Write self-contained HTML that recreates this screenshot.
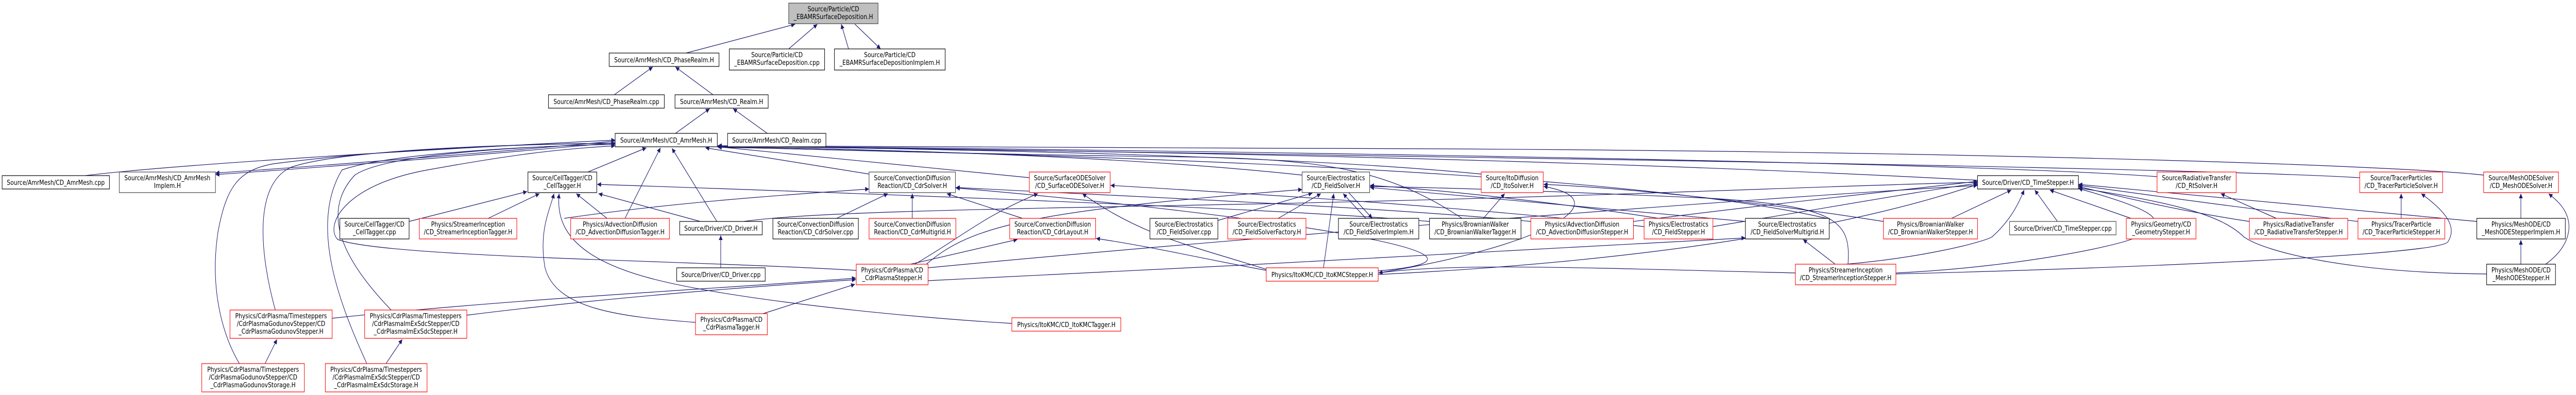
<!DOCTYPE html>
<html><head><meta charset="utf-8"><style>
html,body{margin:0;padding:0;background:#fff;width:100%;height:100%;overflow:hidden;}
svg{display:block;position:absolute;left:0;top:0;width:100vw;height:100vh;}
text{font-family:"DejaVu Sans","Liberation Sans",sans-serif;font-size:13px;fill:#000;}
.n rect{fill:#fff;stroke:#000;stroke-width:1.2;}
.r rect{stroke:#ff0000;}
.g rect{stroke:#404040;}
.e path{fill:none;stroke:#191970;stroke-width:1.2;}
</style></head><body>
<svg viewBox="0 0 6026 767" preserveAspectRatio="none" xmlns="http://www.w3.org/2000/svg">
<defs><marker id="a" viewBox="0 0 10 10" refX="10" refY="5" markerWidth="12" markerHeight="9" markerUnits="userSpaceOnUse" orient="auto"><path d="M0,0 L10,5 L0,10z" fill="#191970"/></marker></defs>
<g class="e">
<path d="M1605,103 L1860,47" marker-end="url(#a)"/>
<path d="M1845,95 L1912,47" marker-end="url(#a)"/>
<path d="M1985,95 L1968,47" marker-end="url(#a)"/>
<path d="M2000,47 L2060,95" marker-end="url(#a)"/>
<path d="M1437,184 L1527,130" marker-end="url(#a)"/>
<path d="M1668,184 L1580,130" marker-end="url(#a)"/>
<path d="M1580,259 L1660,211" marker-end="url(#a)"/>
<path d="M1795,259 L1715,211" marker-end="url(#a)"/>
<path d="M200,341 C400,320 1000,290 1439,272" marker-end="url(#a)"/>
<path d="M1439,274 C1100,300 700,325 504,336" marker-end="url(#a)"/>
<path d="M1439,277 C1100,303 700,328 504,339" marker-end="url(#a)"/>
<path d="M644,602 C610,500 590,360 680,325 C800,290 1200,280 1439,278" marker-end="url(#a)"/>
<path d="M560,706 C520,650 490,560 510,450 C530,360 560,330 640,318 C900,290 1200,280 1439,278" marker-end="url(#a)"/>
<path d="M915,602 C820,520 740,420 830,340 C900,300 1200,285 1439,280" marker-end="url(#a)"/>
<path d="M858,706 C800,600 720,440 800,330 C900,300 1200,285 1439,280" marker-end="url(#a)"/>
<path d="M2003,525 C1600,505 900,500 790,465 C760,440 800,360 1000,330 C1200,300 1300,290 1439,283" marker-end="url(#a)"/>
<path d="M1375,334 L1512,287" marker-end="url(#a)"/>
<path d="M1462,424 L1545,287" marker-end="url(#a)"/>
<path d="M1677,430 L1572,288" marker-end="url(#a)"/>
<path d="M2033,338 L1650,287" marker-end="url(#a)"/>
<path d="M2408,345 C2000,310 1800,295 1679,285" marker-end="url(#a)"/>
<path d="M3046,340 C2600,300 2000,290 1679,284" marker-end="url(#a)"/>
<path d="M3465,338 C3000,300 2200,290 1679,283" marker-end="url(#a)"/>
<path d="M4626,350 C3500,300 2200,290 1679,283" marker-end="url(#a)"/>
<path d="M5046,343 C4500,310 2500,290 1679,283" marker-end="url(#a)"/>
<path d="M5520,345 C5000,320 2500,295 1679,283" marker-end="url(#a)"/>
<path d="M5810,340 C5600,320 4500,290 3000,288 C2300,288 1900,285 1679,283" marker-end="url(#a)"/>
<path d="M3420,424 C3250,330 3100,310 2800,305 C2300,300 1900,290 1679,285" marker-end="url(#a)"/>
<path d="M4283,426 C3800,330 2500,300 1679,286" marker-end="url(#a)"/>
<path d="M1142,424 L1262,376" marker-end="url(#a)"/>
<path d="M957,430 L1233,372" marker-end="url(#a)"/>
<path d="M1420,424 L1348,376" marker-end="url(#a)"/>
<path d="M1638,430 L1400,376" marker-end="url(#a)"/>
<path d="M1627,626 C1450,615 1300,600 1275,520 C1260,450 1285,410 1296,376" marker-end="url(#a)"/>
<path d="M2367,628 C2100,615 1700,580 1520,540 C1340,500 1300,440 1308,376" marker-end="url(#a)"/>
<path d="M3344,430 C3000,405 2000,375 1397,358" marker-end="url(#a)"/>
<path d="M1686,520 L1686,457" marker-end="url(#a)"/>
<path d="M1740,430 C1900,410 2400,405 3000,395 C3800,380 4300,360 4626,354" marker-end="url(#a)"/>
<path d="M2134,424 L2134,376" marker-end="url(#a)"/>
<path d="M2392,424 L2215,376" marker-end="url(#a)"/>
<path d="M1957,424 L2077,376" marker-end="url(#a)"/>
<path d="M1320,424 C1600,390 1900,375 2033,367" marker-end="url(#a)"/>
<path d="M3581,430 C3200,400 2600,380 2236,364" marker-end="url(#a)"/>
<path d="M3224,526 C3600,500 3000,420 2236,365" marker-end="url(#a)"/>
<path d="M777,618 C1200,580 1700,560 2002,540" marker-end="url(#a)"/>
<path d="M1092,612 C1400,580 1700,560 2002,543" marker-end="url(#a)"/>
<path d="M1785,609 L2000,552" marker-end="url(#a)"/>
<path d="M2140,513 C2250,460 2300,420 2428,376" marker-end="url(#a)"/>
<path d="M2962,523 C2800,480 2673,460 2532,376" marker-end="url(#a)"/>
<path d="M3846,440 C3400,400 3000,380 2598,360" marker-end="url(#a)"/>
<path d="M2167,513 C2270,440 2400,410 3046,368" marker-end="url(#a)"/>
<path d="M2130,513 L2380,465" marker-end="url(#a)"/>
<path d="M2962,525 C2800,500 2700,480 2564,463" marker-end="url(#a)"/>
<path d="M2849,428 L3070,375" marker-end="url(#a)"/>
<path d="M2990,424 L3090,376" marker-end="url(#a)"/>
<path d="M3195,424 L3142,376" marker-end="url(#a)"/>
<path d="M3155,374 L3210,424" marker-end="url(#a)"/>
<path d="M3096,520 L3120,376" marker-end="url(#a)"/>
<path d="M3880,424 C3700,400 3400,370 3205,360" marker-end="url(#a)"/>
<path d="M4083,430 C3700,400 3400,380 3205,364" marker-end="url(#a)"/>
<path d="M3470,424 L3520,376" marker-end="url(#a)"/>
<path d="M4406,430 C4100,390 3800,365 3611,358" marker-end="url(#a)"/>
<path d="M3224,530 C3600,480 3800,390 3611,362" marker-end="url(#a)"/>
<path d="M4565,424 L4705,369" marker-end="url(#a)"/>
<path d="M4813,430 L4760,369" marker-end="url(#a)"/>
<path d="M4985,424 L4795,369" marker-end="url(#a)"/>
<path d="M4318,513 C4500,500 4640,470 4660,460 C4700,430 4720,400 4735,369" marker-end="url(#a)"/>
<path d="M5262,430 C5100,410 4950,380 4862,362" marker-end="url(#a)"/>
<path d="M5516,430 C5200,400 5000,375 4862,360" marker-end="url(#a)"/>
<path d="M5794,430 C5400,400 5000,370 4862,358" marker-end="url(#a)"/>
<path d="M5817,532 C5500,530 5300,490 5249,460 C5200,420 5100,395 4862,365" marker-end="url(#a)"/>
<path d="M4007,440 C4300,400 4500,370 4626,356" marker-end="url(#a)"/>
<path d="M3821,430 C4200,390 4500,365 4626,352" marker-end="url(#a)"/>
<path d="M3224,533 C3800,510 4300,450 4626,358" marker-end="url(#a)"/>
<path d="M2171,520 C2800,470 4000,390 4626,360" marker-end="url(#a)"/>
<path d="M4435,530 C4700,520 4950,480 5000,460 C5080,430 5050,410 4862,366" marker-end="url(#a)"/>
<path d="M5617,424 L5617,376" marker-end="url(#a)"/>
<path d="M4435,532 C5000,520 5700,495 5726,470 C5750,440 5720,410 5664,376" marker-end="url(#a)"/>
<path d="M5897,424 L5897,376" marker-end="url(#a)"/>
<path d="M5955,513 C6010,480 6020,440 6000,410 C5990,395 5975,385 5962,376" marker-end="url(#a)"/>
<path d="M5897,513 L5897,466" marker-end="url(#a)"/>
<path d="M5325,424 L5195,376" marker-end="url(#a)"/>
<path d="M4293,513 L4218,465" marker-end="url(#a)"/>
<path d="M2171,545 C2800,520 3500,490 4083,462" marker-end="url(#a)"/>
<path d="M4323,513 C4330,430 4300,400 4000,385 C3600,370 3400,365 3205,362" marker-end="url(#a)"/>
<path d="M4200,530 C3700,520 3400,510 3225,530" marker-end="url(#a)"/>
<path d="M620,706 L648,659" marker-end="url(#a)"/>
<path d="M903,706 L941,659" marker-end="url(#a)"/>
</g>
<g class="n g"><rect x="1845" y="6" width="209" height="40" style="fill:#bfbfbf"/><text text-anchor="middle" y="22"><tspan x="1949.5">Source/Particle/CD</tspan><tspan x="1949.5" dy="15">_EBAMRSurfaceDeposition.H</tspan></text></g>
<g class="n"><rect x="1425" y="103" width="257" height="26"/><text x="1553.5" y="121" text-anchor="middle">Source/AmrMesh/CD_PhaseRealm.H</text></g>
<g class="n"><rect x="1706" y="95" width="223" height="41"/><text text-anchor="middle" y="111"><tspan x="1817.5">Source/Particle/CD</tspan><tspan x="1817.5" dy="15">_EBAMRSurfaceDeposition.cpp</tspan></text></g>
<g class="n"><rect x="1952" y="95" width="259" height="41"/><text text-anchor="middle" y="111"><tspan x="2081.5">Source/Particle/CD</tspan><tspan x="2081.5" dy="15">_EBAMRSurfaceDepositionImplem.H</tspan></text></g>
<g class="n"><rect x="1283" y="184" width="271" height="26"/><text x="1418.5" y="202" text-anchor="middle">Source/AmrMesh/CD_PhaseRealm.cpp</text></g>
<g class="n"><rect x="1579" y="184" width="218" height="26"/><text x="1688" y="202" text-anchor="middle">Source/AmrMesh/CD_Realm.H</text></g>
<g class="n"><rect x="1439" y="259" width="239" height="26"/><text x="1558.5" y="277" text-anchor="middle">Source/AmrMesh/CD_AmrMesh.H</text></g>
<g class="n"><rect x="1702" y="259" width="230" height="26"/><text x="1817" y="277" text-anchor="middle">Source/AmrMesh/CD_Realm.cpp</text></g>
<g class="n"><rect x="5" y="341" width="251" height="26"/><text x="130.5" y="359" text-anchor="middle">Source/AmrMesh/CD_AmrMesh.cpp</text></g>
<g class="n g"><rect x="279" y="334" width="225" height="40"/><text text-anchor="middle" y="350"><tspan x="391.5">Source/AmrMesh/CD_AmrMesh</tspan><tspan x="391.5" dy="15">Implem.H</tspan></text></g>
<g class="n"><rect x="1235" y="334" width="161" height="40"/><text text-anchor="middle" y="350"><tspan x="1315.5">Source/CellTagger/CD</tspan><tspan x="1315.5" dy="15">_CellTagger.H</tspan></text></g>
<g class="n g"><rect x="2033" y="334" width="202" height="40"/><text text-anchor="middle" y="350"><tspan x="2134">Source/ConvectionDiffusion</tspan><tspan x="2134" dy="15">Reaction/CD_CdrSolver.H</tspan></text></g>
<g class="n r"><rect x="2408" y="334" width="189" height="40"/><text text-anchor="middle" y="350"><tspan x="2502.5">Source/SurfaceODESolver</tspan><tspan x="2502.5" dy="15">/CD_SurfaceODESolver.H</tspan></text></g>
<g class="n g"><rect x="3046" y="334" width="158" height="40"/><text text-anchor="middle" y="350"><tspan x="3125">Source/Electrostatics</tspan><tspan x="3125" dy="15">/CD_FieldSolver.H</tspan></text></g>
<g class="n r"><rect x="3465" y="334" width="145" height="40"/><text text-anchor="middle" y="350"><tspan x="3537.5">Source/ItoDiffusion</tspan><tspan x="3537.5" dy="15">/CD_ItoSolver.H</tspan></text></g>
<g class="n"><rect x="4626" y="341" width="236" height="26"/><text x="4744" y="359" text-anchor="middle">Source/Driver/CD_TimeStepper.H</text></g>
<g class="n r"><rect x="5046" y="334" width="185" height="40"/><text text-anchor="middle" y="350"><tspan x="5138.5">Source/RadiativeTransfer</tspan><tspan x="5138.5" dy="15">/CD_RtSolver.H</tspan></text></g>
<g class="n r"><rect x="5520" y="334" width="194" height="40"/><text text-anchor="middle" y="350"><tspan x="5617">Source/TracerParticles</tspan><tspan x="5617" dy="15">/CD_TracerParticleSolver.H</tspan></text></g>
<g class="n r"><rect x="5810" y="334" width="175" height="40"/><text text-anchor="middle" y="350"><tspan x="5897.5">Source/MeshODESolver</tspan><tspan x="5897.5" dy="15">/CD_MeshODESolver.H</tspan></text></g>
<g class="n"><rect x="795" y="424" width="162" height="40"/><text text-anchor="middle" y="440"><tspan x="876">Source/CellTagger/CD</tspan><tspan x="876" dy="15">_CellTagger.cpp</tspan></text></g>
<g class="n r"><rect x="981" y="424" width="228" height="40"/><text text-anchor="middle" y="440"><tspan x="1095">Physics/StreamerInception</tspan><tspan x="1095" dy="15">/CD_StreamerInceptionTagger.H</tspan></text></g>
<g class="n r"><rect x="1335" y="424" width="231" height="40"/><text text-anchor="middle" y="440"><tspan x="1450.5">Physics/AdvectionDiffusion</tspan><tspan x="1450.5" dy="15">/CD_AdvectionDiffusionTagger.H</tspan></text></g>
<g class="n"><rect x="1590" y="430" width="193" height="26"/><text x="1686.5" y="448" text-anchor="middle">Source/Driver/CD_Driver.H</text></g>
<g class="n"><rect x="1808" y="424" width="200" height="40"/><text text-anchor="middle" y="440"><tspan x="1908">Source/ConvectionDiffusion</tspan><tspan x="1908" dy="15">Reaction/CD_CdrSolver.cpp</tspan></text></g>
<g class="n r"><rect x="2033" y="424" width="203" height="40"/><text text-anchor="middle" y="440"><tspan x="2134.5">Source/ConvectionDiffusion</tspan><tspan x="2134.5" dy="15">Reaction/CD_CdrMultigrid.H</tspan></text></g>
<g class="n r"><rect x="2362" y="424" width="201" height="40"/><text text-anchor="middle" y="440"><tspan x="2462.5">Source/ConvectionDiffusion</tspan><tspan x="2462.5" dy="15">Reaction/CD_CdrLayout.H</tspan></text></g>
<g class="n"><rect x="2690" y="424" width="159" height="40"/><text text-anchor="middle" y="440"><tspan x="2769.5">Source/Electrostatics</tspan><tspan x="2769.5" dy="15">/CD_FieldSolver.cpp</tspan></text></g>
<g class="n r"><rect x="2872" y="424" width="183" height="40"/><text text-anchor="middle" y="440"><tspan x="2963.5">Source/Electrostatics</tspan><tspan x="2963.5" dy="15">/CD_FieldSolverFactory.H</tspan></text></g>
<g class="n"><rect x="3131" y="424" width="188" height="40"/><text text-anchor="middle" y="440"><tspan x="3225">Source/Electrostatics</tspan><tspan x="3225" dy="15">/CD_FieldSolverImplem.H</tspan></text></g>
<g class="n"><rect x="3344" y="424" width="214" height="40"/><text text-anchor="middle" y="440"><tspan x="3451">Physics/BrownianWalker</tspan><tspan x="3451" dy="15">/CD_BrownianWalkerTagger.H</tspan></text></g>
<g class="n r"><rect x="3581" y="424" width="240" height="40"/><text text-anchor="middle" y="440"><tspan x="3701">Physics/AdvectionDiffusion</tspan><tspan x="3701" dy="15">/CD_AdvectionDiffusionStepper.H</tspan></text></g>
<g class="n r"><rect x="3846" y="424" width="161" height="40"/><text text-anchor="middle" y="440"><tspan x="3926.5">Physics/Electrostatics</tspan><tspan x="3926.5" dy="15">/CD_FieldStepper.H</tspan></text></g>
<g class="n"><rect x="4083" y="424" width="196" height="40"/><text text-anchor="middle" y="440"><tspan x="4181">Source/Electrostatics</tspan><tspan x="4181" dy="15">/CD_FieldSolverMultigrid.H</tspan></text></g>
<g class="n r"><rect x="4406" y="424" width="220" height="40"/><text text-anchor="middle" y="440"><tspan x="4516">Physics/BrownianWalker</tspan><tspan x="4516" dy="15">/CD_BrownianWalkerStepper.H</tspan></text></g>
<g class="n g"><rect x="4701" y="430" width="249" height="26"/><text x="4825.5" y="448" text-anchor="middle">Source/Driver/CD_TimeStepper.cpp</text></g>
<g class="n r"><rect x="4974" y="424" width="163" height="40"/><text text-anchor="middle" y="440"><tspan x="5055.5">Physics/Geometry/CD</tspan><tspan x="5055.5" dy="15">_GeometryStepper.H</tspan></text></g>
<g class="n r"><rect x="5262" y="424" width="230" height="40"/><text text-anchor="middle" y="440"><tspan x="5377">Physics/RadiativeTransfer</tspan><tspan x="5377" dy="15">/CD_RadiativeTransferStepper.H</tspan></text></g>
<g class="n r"><rect x="5516" y="424" width="203" height="40"/><text text-anchor="middle" y="440"><tspan x="5617.5">Physics/TracerParticle</tspan><tspan x="5617.5" dy="15">/CD_TracerParticleStepper.H</tspan></text></g>
<g class="n"><rect x="5794" y="424" width="207" height="40"/><text text-anchor="middle" y="440"><tspan x="5897.5">Physics/MeshODE/CD</tspan><tspan x="5897.5" dy="15">_MeshODEStepperImplem.H</tspan></text></g>
<g class="n"><rect x="1583" y="520" width="207" height="26"/><text x="1686.5" y="538" text-anchor="middle">Source/Driver/CD_Driver.cpp</text></g>
<g class="n r"><rect x="2003" y="513" width="168" height="40"/><text text-anchor="middle" y="529"><tspan x="2087">Physics/CdrPlasma/CD</tspan><tspan x="2087" dy="15">_CdrPlasmaStepper.H</tspan></text></g>
<g class="n r"><rect x="2962" y="520" width="262" height="26"/><text x="3093" y="538" text-anchor="middle">Physics/ItoKMC/CD_ItoKMCStepper.H</text></g>
<g class="n r"><rect x="4200" y="513" width="235" height="40"/><text text-anchor="middle" y="529"><tspan x="4317.5">Physics/StreamerInception</tspan><tspan x="4317.5" dy="15">/CD_StreamerInceptionStepper.H</tspan></text></g>
<g class="n"><rect x="5817" y="513" width="161" height="40"/><text text-anchor="middle" y="529"><tspan x="5897.5">Physics/MeshODE/CD</tspan><tspan x="5897.5" dy="15">_MeshODEStepper.H</tspan></text></g>
<g class="n r"><rect x="538" y="602" width="239" height="55"/><text text-anchor="middle" y="618"><tspan x="657.5">Physics/CdrPlasma/Timesteppers</tspan><tspan x="657.5" dy="15">/CdrPlasmaGodunovStepper/CD</tspan><tspan x="657.5" dy="15">_CdrPlasmaGodunovStepper.H</tspan></text></g>
<g class="n r"><rect x="853" y="602" width="239" height="55"/><text text-anchor="middle" y="618"><tspan x="972.5">Physics/CdrPlasma/Timesteppers</tspan><tspan x="972.5" dy="15">/CdrPlasmaImExSdcStepper/CD</tspan><tspan x="972.5" dy="15">_CdrPlasmaImExSdcStepper.H</tspan></text></g>
<g class="n r"><rect x="1627" y="609" width="168" height="41"/><text text-anchor="middle" y="625"><tspan x="1711">Physics/CdrPlasma/CD</tspan><tspan x="1711" dy="15">_CdrPlasmaTagger.H</tspan></text></g>
<g class="n r"><rect x="2367" y="617" width="255" height="26"/><text x="2494.5" y="635" text-anchor="middle">Physics/ItoKMC/CD_ItoKMCTagger.H</text></g>
<g class="n r"><rect x="472" y="706" width="240" height="55"/><text text-anchor="middle" y="722"><tspan x="592">Physics/CdrPlasma/Timesteppers</tspan><tspan x="592" dy="15">/CdrPlasmaGodunovStepper/CD</tspan><tspan x="592" dy="15">_CdrPlasmaGodunovStorage.H</tspan></text></g>
<g class="n r"><rect x="761" y="706" width="238" height="55"/><text text-anchor="middle" y="722"><tspan x="880">Physics/CdrPlasma/Timesteppers</tspan><tspan x="880" dy="15">/CdrPlasmaImExSdcStepper/CD</tspan><tspan x="880" dy="15">_CdrPlasmaImExSdcStorage.H</tspan></text></g>
</svg>
</body></html>
